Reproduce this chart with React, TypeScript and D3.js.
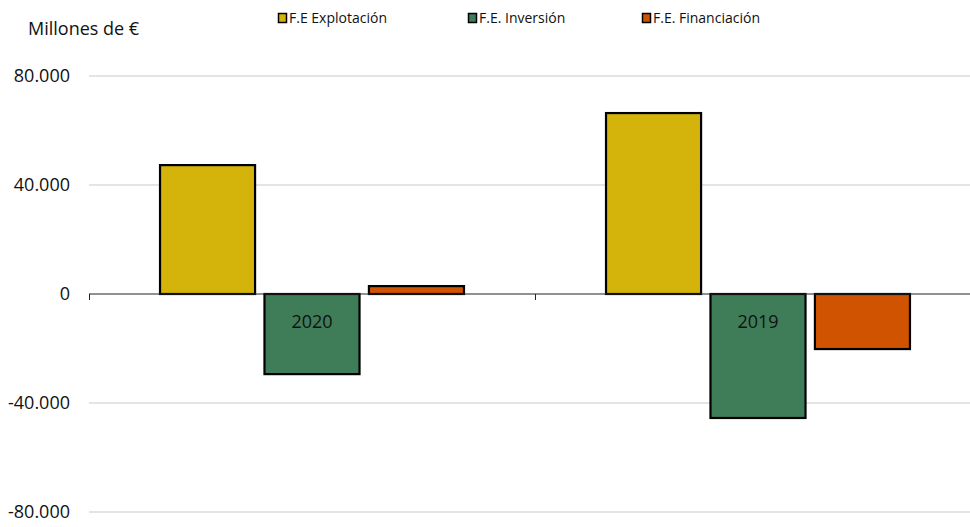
import { useEffect, useRef } from "react";
import * as d3 from "d3";

// Data
const years = ["2020", "2019"];
const seriesNames = ["F.E Explotación", "F.E. Inversión", "F.E. Financiación"];
const explotacion = [47300, 66400];
const inversion = [-29400, -45500];
const financiacion = [2900, -20200];
const yTicks = [-80000, -40000, 0, 40000, 80000];

const colors = ["#D4B30A", "#3F7D59", "#CF5300"];
const FONT = "'Open Sans', 'DejaVu Sans', sans-serif";

const App = () => {
  const svgRef = useRef<SVGSVGElement | null>(null);

  useEffect(() => {
    const width = 970;
    const height = 527;
    const margin = { top: 76, right: 0, bottom: 15, left: 89 };

    const svg = d3.select(svgRef.current).attr("width", width).attr("height", height);
    svg.selectAll("*").remove();

    const values = [explotacion, inversion, financiacion];
    const rows = years.map((yr, i) => ({
      year: yr,
      vals: seriesNames.map((s, k) => ({ key: s, k, value: values[k][i] })),
    }));

    const y = d3.scaleLinear().domain([-80000, 80000]).range([512, 76]);

    const x0 = d3.scaleBand().domain(years).range([margin.left, 981]).padding(0);
    const x1 = d3
      .scaleBand()
      .domain(seriesNames)
      .range([0, x0.bandwidth()])
      .paddingInner(0.09)
      .paddingOuter(0.68);

    const fmt = (d: number) => {
      const s = d3.format(",")(Math.abs(d)).replace(/,/g, ".");
      return d < 0 ? "-" + s : s;
    };

    // gridlines
    svg
      .append("g")
      .selectAll("line")
      .data(yTicks.filter((t) => t !== 0))
      .join("line")
      .attr("x1", margin.left)
      .attr("x2", width)
      .attr("y1", (d) => y(d))
      .attr("y2", (d) => y(d))
      .attr("stroke", "#c9c9c9")
      .attr("stroke-width", 1);

    // y labels
    svg
      .append("g")
      .selectAll("text")
      .data(yTicks)
      .join("text")
      .attr("x", 70)
      .attr("y", (d) => y(d))
      .attr("dy", "0.35em")
      .attr("text-anchor", "end")
      .attr("font-family", FONT)
      .attr("font-size", 18)
      .attr("fill", "#111")
      .text((d) => fmt(d));

    // bars
    const groups = svg
      .append("g")
      .selectAll("g")
      .data(rows)
      .join("g")
      .attr("transform", (d) => `translate(${x0(d.year)},0)`);

    groups
      .selectAll("rect")
      .data((d) => d.vals)
      .join("rect")
      .attr("x", (d) => x1(d.key) as number)
      .attr("width", x1.bandwidth())
      .attr("y", (d) => y(Math.max(0, d.value)))
      .attr("height", (d) => Math.abs(y(d.value) - y(0)))
      .attr("fill", (d) => colors[d.k])
      .attr("stroke", "#000")
      .attr("stroke-width", 2.2);

    // zero axis
    svg
      .append("line")
      .attr("x1", margin.left)
      .attr("x2", width)
      .attr("y1", y(0))
      .attr("y2", y(0))
      .attr("stroke", "#222")
      .attr("stroke-width", 1);

    svg
      .append("g")
      .selectAll("line")
      .data([margin.left, (x0("2019") as number)])
      .join("line")
      .attr("x1", (d) => d + 0.5)
      .attr("x2", (d) => d + 0.5)
      .attr("y1", y(0))
      .attr("y2", y(0) + 6)
      .attr("stroke", "#222");

    // category labels
    svg
      .append("g")
      .selectAll("text")
      .data(years)
      .join("text")
      .attr("x", (d) => (x0(d) as number) + x0.bandwidth() / 2)
      .attr("y", y(0) + 28)
      .attr("dy", "0.35em")
      .attr("text-anchor", "middle")
      .attr("font-family", FONT)
      .attr("font-size", 18)
      .attr("fill", "#111")
      .text((d) => d);

    // unit title
    svg
      .append("text")
      .attr("x", 28)
      .attr("y", 35)
      .attr("font-family", FONT)
      .attr("font-size", 18)
      .attr("fill", "#111")
      .text("Millones de €");

    // legend
    const legendX = [278, 468, 642];
    const item = svg
      .append("g")
      .selectAll("g")
      .data(seriesNames)
      .join("g")
      .attr("transform", (_, i) => `translate(${legendX[i]},13)`);

    item
      .append("rect")
      .attr("x", 0.5)
      .attr("y", 0.5)
      .attr("width", 8)
      .attr("height", 9)
      .attr("fill", (_, i) => colors[i])
      .attr("stroke", "#000")
      .attr("stroke-width", 1.5);

    item
      .append("text")
      .attr("x", 11)
      .attr("y", 5)
      .attr("dy", "0.35em")
      .attr("font-family", FONT)
      .attr("font-size", 14)
      .attr("fill", "#111")
      .text((d) => d);
  }, []);

  return (
    <div style={{ position: "fixed", left: 0, top: 0, background: "#fff" }}>
      <svg ref={svgRef} style={{ display: "block" }} />
    </div>
  );
};

export default App;
